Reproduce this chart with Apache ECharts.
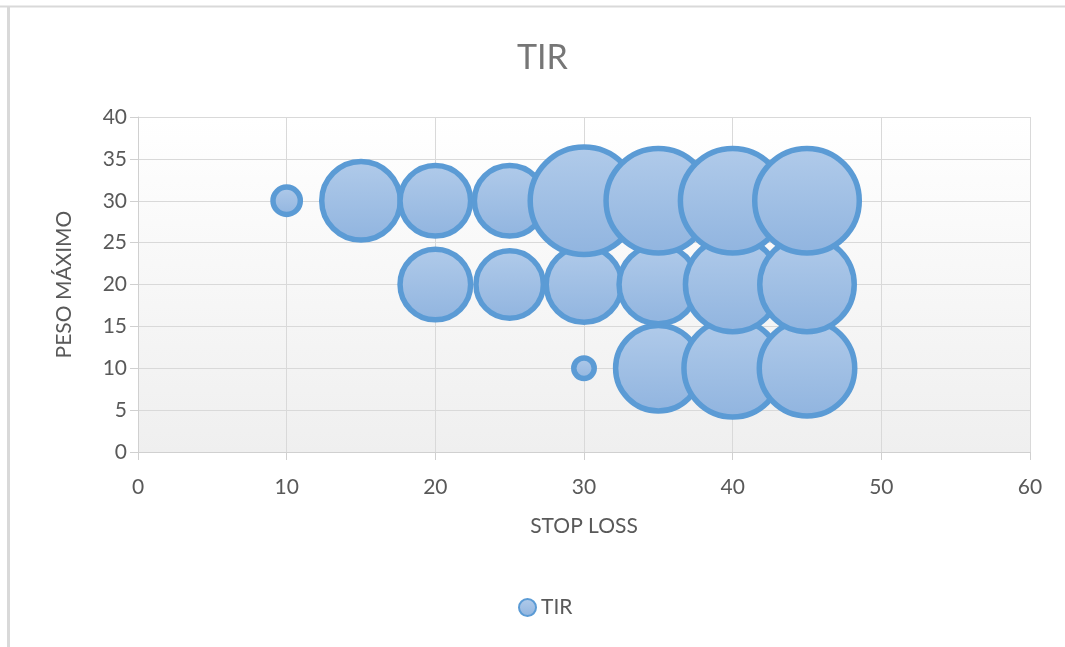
<!DOCTYPE html>
<html>
<head>
<meta charset="utf-8">
<script src="https://cdn.jsdelivr.net/npm/echarts@6/dist/echarts.min.js"></script>
<style>
html,body{margin:0;padding:0;background:#fff;}
#chart{width:1065px;height:647px;}
</style>
</head>
<body>
<div id="chart"></div>
<script>
// Data
const stopLoss   = [10, 15, 20, 25, 30, 35, 40, 45, 20, 25, 30, 35, 40, 45, 30, 35, 40, 45];
const pesoMaximo = [30, 30, 30, 30, 30, 30, 30, 30, 20, 20, 20, 20, 20, 20, 10, 10, 10, 10];
const tir        = [3.2, 21.0, 17.2, 17.2, 38.0, 36.0, 36.0, 36.0, 17.2, 15.8, 19.5, 21.0, 29.7, 29.7, 2.0, 24.6, 31.5, 30.3];
const xTicks = { min: 0, max: 60, interval: 10 };
const yTicks = { min: 0, max: 40, interval: 5 };

const FONT = 'Lato, "Open Sans", sans-serif';
const BW = 5.5;
const K = 18.34;

// draw order: by stop loss, then peso
const idx = stopLoss.map((_, i) => i).sort((a, b) => stopLoss[a] - stopLoss[b] || pesoMaximo[a] - pesoMaximo[b]);
const data = idx.map(i => [stopLoss[i], pesoMaximo[i], tir[i]]);

const chart = echarts.init(document.getElementById('chart'), null, { renderer: 'canvas' });
chart.setOption({
  backgroundColor: '#fff',
  animation: false,
  textStyle: { fontFamily: FONT },
  title: {
    text: 'TIR', left: 512, top: 36,
    textStyle: { fontFamily: FONT, fontSize: 34, fontWeight: 'normal', color: '#767676' }
  },
  legend: {
    data: ['TIR'], top: 592, left: 513,
    itemWidth: 17, itemHeight: 17, itemGap: 6,
    textStyle: { fontFamily: FONT, fontSize: 21, color: '#595959' }
  },
  graphic: [
    { type: 'line', shape: { x1: 0, y1: 6.5, x2: 1065, y2: 6.5 }, style: { stroke: '#d9d9d9', lineWidth: 2 } },
    { type: 'line', shape: { x1: 8.5, y1: 6, x2: 8.5, y2: 647 }, style: { stroke: '#d9d9d9', lineWidth: 3 } }
  ],
  grid: {
    left: 138, right: 35, top: 117, bottom: 195, show: true, borderWidth: 0,
    backgroundColor: new echarts.graphic.LinearGradient(0, 0, 0, 1, [
      { offset: 0, color: '#ffffff' }, { offset: 1, color: '#efefef' }
    ])
  },
  xAxis: {
    type: 'value', min: xTicks.min, max: xTicks.max, interval: xTicks.interval,
    name: 'STOP LOSS', nameLocation: 'middle', nameGap: 64,
    nameTextStyle: { fontFamily: FONT, fontSize: 21, color: '#595959' },
    axisLine: { show: true, lineStyle: { color: '#d0d0d0', width: 1 } },
    axisTick: { show: true, length: 8, lineStyle: { color: '#d0d0d0' } },
    axisLabel: { margin: 25, fontFamily: FONT, fontSize: 21, color: '#595959' },
    splitLine: { show: true, lineStyle: { color: '#d9d9d9', width: 1 } }
  },
  yAxis: {
    type: 'value', min: yTicks.min, max: yTicks.max, interval: yTicks.interval,
    name: 'PESO MÁXIMO', nameLocation: 'middle', nameGap: 63, nameRotate: 90,
    nameTextStyle: { fontFamily: FONT, fontSize: 21, color: '#595959' },
    axisLine: { show: true, lineStyle: { color: '#d0d0d0', width: 1 } },
    axisTick: { show: true, length: 8, lineStyle: { color: '#d0d0d0' } },
    axisLabel: { margin: 11, fontFamily: FONT, fontSize: 21, color: '#595959' },
    splitLine: { show: true, lineStyle: { color: '#d9d9d9', width: 1 } }
  },
  series: [{
    name: 'TIR',
    type: 'scatter',
    data: data,
    symbol: 'circle',
    symbolSize: d => Math.sqrt(d[2]) * K - BW,
    itemStyle: {
      color: new echarts.graphic.LinearGradient(0, 0, 0, 1, [
        { offset: 0, color: '#b1cbea' }, { offset: 1, color: '#90b4df' }
      ]),
      borderColor: '#5b9bd5',
      borderWidth: BW,
      opacity: 1
    },
    emphasis: { disabled: true }
  }]
});
</script>
</body>
</html>
